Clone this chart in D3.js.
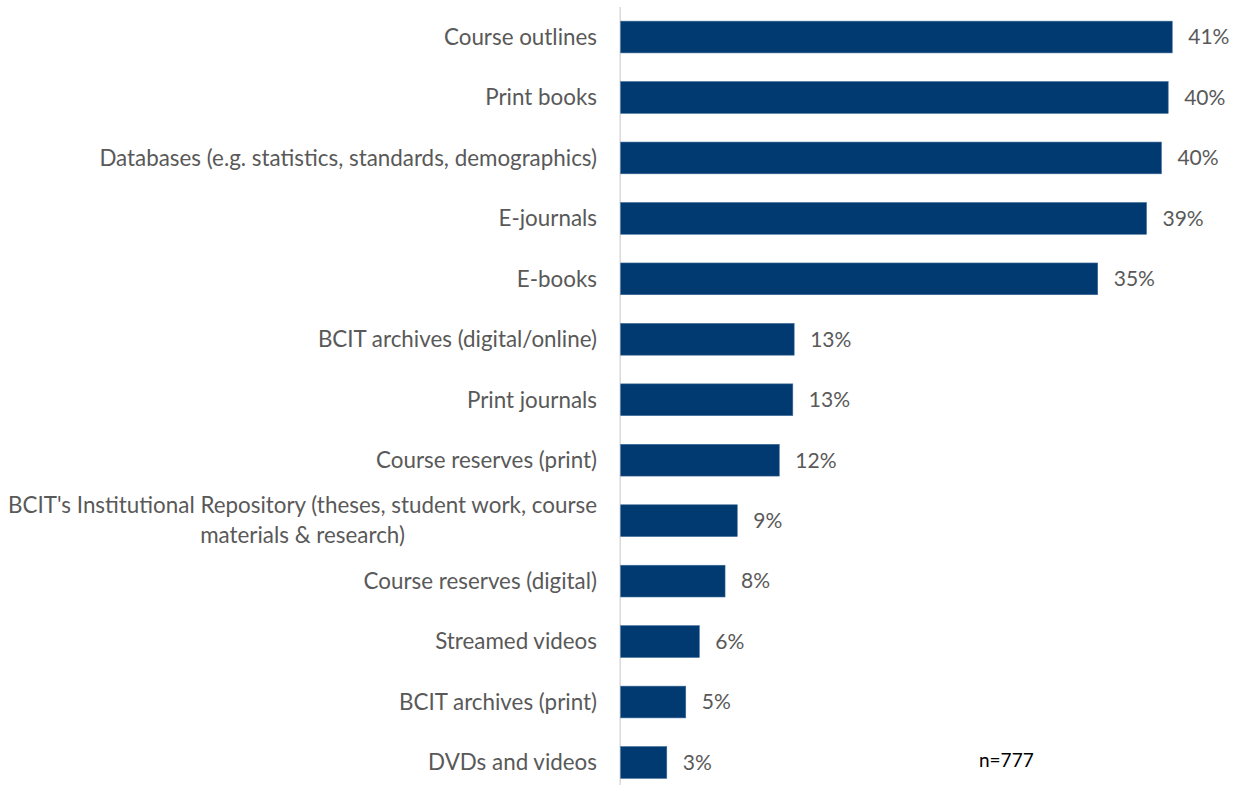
<!DOCTYPE html>
<html>
<head>
<meta charset="utf-8">
<script src="https://cdn.jsdelivr.net/npm/d3@7"></script>
<style>
  html, body { margin: 0; padding: 0; background: #ffffff; }
  svg { display: block; }
</style>
</head>
<body>
<svg id="chart" width="1240" height="785"></svg>
<script>
// Library resources used, share of respondents (%)
const categories = [
  "Course outlines",
  "Print books",
  "Databases (e.g. statistics, standards, demographics)",
  "E-journals",
  "E-books",
  "BCIT archives (digital/online)",
  "Print journals",
  "Course reserves (print)",
  "BCIT's Institutional Repository (theses, student work, course materials & research)",
  "Course reserves (digital)",
  "Streamed videos",
  "BCIT archives (print)",
  "DVDs and videos"
];
const shares = [40.7, 40.4, 39.9, 38.8, 35.2, 12.8, 12.7, 11.7, 8.6, 7.7, 5.8, 4.8, 3.4];
const sampleNote = "n=777";

const W = 1240, H = 785;
const plot = { left: 620.7, right: 1230.5, top: 6.8, bottom: 792.7 };
const barColor = "#003a70";
const textColor = "#595959";
const fontFamily = "Lato, 'Open Sans', sans-serif";

const svg = d3.select("#chart");

const x = d3.scaleLinear().domain([0, 45]).range([plot.left, plot.right]);
const y = d3.scaleBand().domain(categories).range([plot.top, plot.bottom]).paddingInner(0.475).paddingOuter(0.2375);

// Calibrate category font size so the longest single-line label spans ~500px
const probe = svg.append("text").attr("font-family", fontFamily).attr("font-size", 20)
  .text(categories[2]);
const probeW = probe.node().getComputedTextLength();
probe.remove();
const catSize = 20 * 498 / probeW;
const valSize = catSize * 0.94;

// Vertical axis line
svg.append("line")
  .attr("x1", plot.left - 0.5).attr("x2", plot.left - 0.5)
  .attr("y1", 7).attr("y2", H)
  .attr("stroke", "#d9d9d9").attr("stroke-width", 1.5);

// Bars
svg.append("g").selectAll("rect")
  .data(categories)
  .join("rect")
  .attr("x", x(0))
  .attr("y", d => y(d))
  .attr("width", (d, i) => x(shares[i]) - x(0))
  .attr("height", y.bandwidth())
  .attr("fill", barColor)
  .attr("stroke", "#3b6896")
  .attr("stroke-width", 0.6);

// Value labels
const fmt = v => Math.round(v) + "%";
svg.append("g").selectAll("text")
  .data(categories)
  .join("text")
  .attr("x", (d, i) => x(shares[i]) + 16)
  .attr("y", d => y(d) + y.bandwidth() / 2)
  .attr("dy", "0.35em")
  .attr("font-family", fontFamily)
  .attr("font-size", valSize)
  .attr("fill", textColor)
  .text((d, i) => fmt(shares[i]));

// Category labels, wrapped when wider than the label column
const maxLabelW = 600;
const labelRight = 597;
const labels = svg.append("g");
categories.forEach(cat => {
  const words = cat.split(" ");
  const lines = [];
  let line = [];
  const t = labels.append("text")
    .attr("font-family", fontFamily)
    .attr("font-size", catSize)
    .attr("fill", textColor);
  for (const w of words) {
    line.push(w);
    t.text(line.join(" "));
    if (t.node().getComputedTextLength() > maxLabelW && line.length > 1) {
      line.pop();
      lines.push(line.join(" "));
      line = [w];
    }
  }
  lines.push(line.join(" "));
  t.text(null);
  // measure widest line so multi-line labels are centred within a right-aligned block
  const widths = lines.map(l => { t.text(l); return t.node().getComputedTextLength(); });
  t.text(null);
  const blockW = d3.max(widths);
  const cx = labelRight - blockW / 2;
  const cy = y(cat) + y.bandwidth() / 2;
  const lh = 30;
  t.attr("text-anchor", "middle");
  lines.forEach((l, j) => {
    t.append("tspan")
      .attr("x", cx)
      .attr("y", cy + (j - (lines.length - 1) / 2) * lh)
      .attr("dy", "0.35em")
      .text(l);
  });
});

// Sample size note
svg.append("text")
  .attr("x", 979)
  .attr("y", 767)
  .attr("font-family", fontFamily)
  .attr("font-size", 19)
  .attr("fill", "#000000")
  .text(sampleNote);
</script>
</body>
</html>
